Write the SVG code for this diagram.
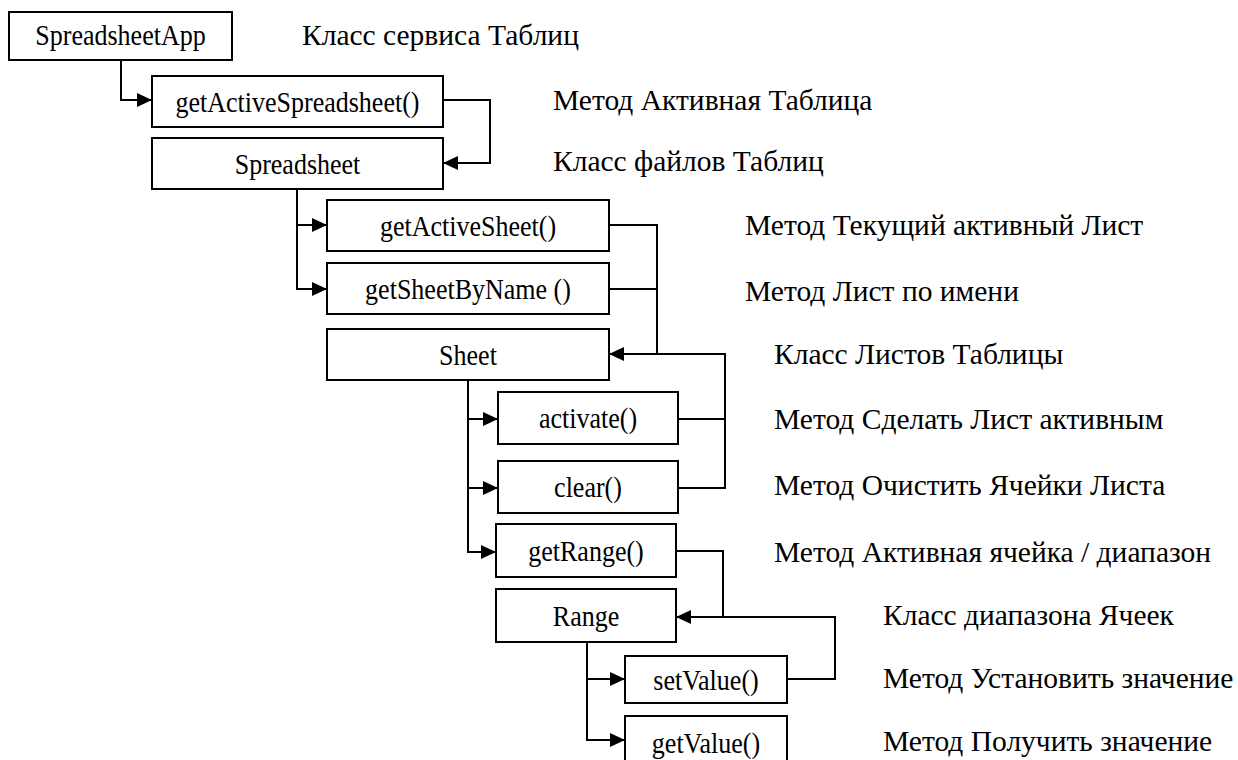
<svg xmlns="http://www.w3.org/2000/svg" width="1238" height="760" viewBox="0 0 1238 760">
<style>
.box{fill:#fff;stroke:#000;stroke-width:2}
.nt{font-family:"Liberation Serif","Times New Roman",serif;font-size:30px;text-anchor:middle;fill:#000}
.lb{font-family:"Liberation Serif","Times New Roman",serif;font-size:29.5px;fill:#000}
.cn{fill:none;stroke:#000;stroke-width:2}
</style>
<defs>
<marker id="ar" viewBox="0 0 15 14" refX="15" refY="7" markerWidth="15" markerHeight="14" markerUnits="userSpaceOnUse" orient="auto">
<path d="M0,0 L15,7 L0,14 z" fill="#000"/>
</marker>
</defs>
<rect width="1238" height="760" fill="#fff"/>
<g id="connectors">
<path class="cn" d="M121 60 V100 H152" marker-end="url(#ar)"/>
<path class="cn" d="M443 100 H490 V163 H443" marker-end="url(#ar)"/>
<path class="cn" d="M297 189 V225 H327" marker-end="url(#ar)"/>
<path class="cn" d="M297 225 V289 H327" marker-end="url(#ar)"/>
<path class="cn" d="M609 225 H657 V354 H609" marker-end="url(#ar)"/>
<path class="cn" d="M609 289 H657"/>
<path class="cn" d="M678 488 H725 V354 H657"/>
<path class="cn" d="M678 419 H725"/>
<path class="cn" d="M468 380 V552 H496" marker-end="url(#ar)"/>
<path class="cn" d="M468 419 H498" marker-end="url(#ar)"/>
<path class="cn" d="M468 488 H498" marker-end="url(#ar)"/>
<path class="cn" d="M676 551 H723 V617 H676" marker-end="url(#ar)"/>
<path class="cn" d="M787 679 H835 V617 H723"/>
<path class="cn" d="M587 642 V740 H625" marker-end="url(#ar)"/>
<path class="cn" d="M587 679 H625" marker-end="url(#ar)"/>
</g>
<g id="n-spreadsheetapp"><rect class="box" x="9" y="12" width="223" height="48"/><text class="nt" transform="translate(120.5,45) scale(0.867,1)">SpreadsheetApp</text></g>
<g id="n-getactivespreadsheet"><rect class="box" x="152" y="76" width="291" height="51"/><text class="nt" transform="translate(297.5,112) scale(0.867,1)">getActiveSpreadsheet()</text></g>
<g id="n-spreadsheet"><rect class="box" x="152" y="138" width="291" height="51"/><text class="nt" transform="translate(297.5,174) scale(0.867,1)">Spreadsheet</text></g>
<g id="n-getactivesheet"><rect class="box" x="327" y="200" width="282" height="51"/><text class="nt" transform="translate(468,236) scale(0.867,1)">getActiveSheet()</text></g>
<g id="n-getsheetbyname"><rect class="box" x="327" y="263" width="282" height="51"/><text class="nt" transform="translate(468,299) scale(0.867,1)">getSheetByName ()</text></g>
<g id="n-sheet"><rect class="box" x="327" y="329" width="282" height="51"/><text class="nt" transform="translate(468,365) scale(0.867,1)">Sheet</text></g>
<g id="n-activate"><rect class="box" x="498" y="392" width="180" height="52"/><text class="nt" transform="translate(588,428) scale(0.867,1)">activate()</text></g>
<g id="n-clear"><rect class="box" x="498" y="461" width="180" height="52"/><text class="nt" transform="translate(588,497) scale(0.867,1)">clear()</text></g>
<g id="n-getrange"><rect class="box" x="496" y="524" width="180" height="53"/><text class="nt" transform="translate(586,561) scale(0.867,1)">getRange()</text></g>
<g id="n-range"><rect class="box" x="496" y="589" width="180" height="53"/><text class="nt" transform="translate(586,626) scale(0.867,1)">Range</text></g>
<g id="n-setvalue"><rect class="box" x="625" y="656" width="162" height="47"/><text class="nt" transform="translate(706,690) scale(0.867,1)">setValue()</text></g>
<g id="n-getvalue"><rect class="box" x="625" y="716" width="162" height="50"/><text class="nt" transform="translate(706,753) scale(0.867,1)">getValue()</text></g>
<g id="labels">
<text class="lb" x="302" y="45">Класс сервиса Таблиц</text>
<text class="lb" x="553" y="110">Метод Активная Таблица</text>
<text class="lb" x="553" y="171">Класс файлов Таблиц</text>
<text class="lb" x="745" y="235">Метод Текущий активный Лист</text>
<text class="lb" x="745" y="301">Метод Лист по имени</text>
<text class="lb" x="774" y="364">Класс Листов Таблицы</text>
<text class="lb" x="774" y="429">Метод Сделать Лист активным</text>
<text class="lb" x="774" y="495">Метод Очистить Ячейки Листа</text>
<text class="lb" x="774" y="562">Метод Активная ячейка / диапазон</text>
<text class="lb" x="883" y="625">Класс диапазона Ячеек</text>
<text class="lb" x="883" y="688">Метод Установить значение</text>
<text class="lb" x="883" y="751">Метод Получить значение</text>
</g>
</svg>
